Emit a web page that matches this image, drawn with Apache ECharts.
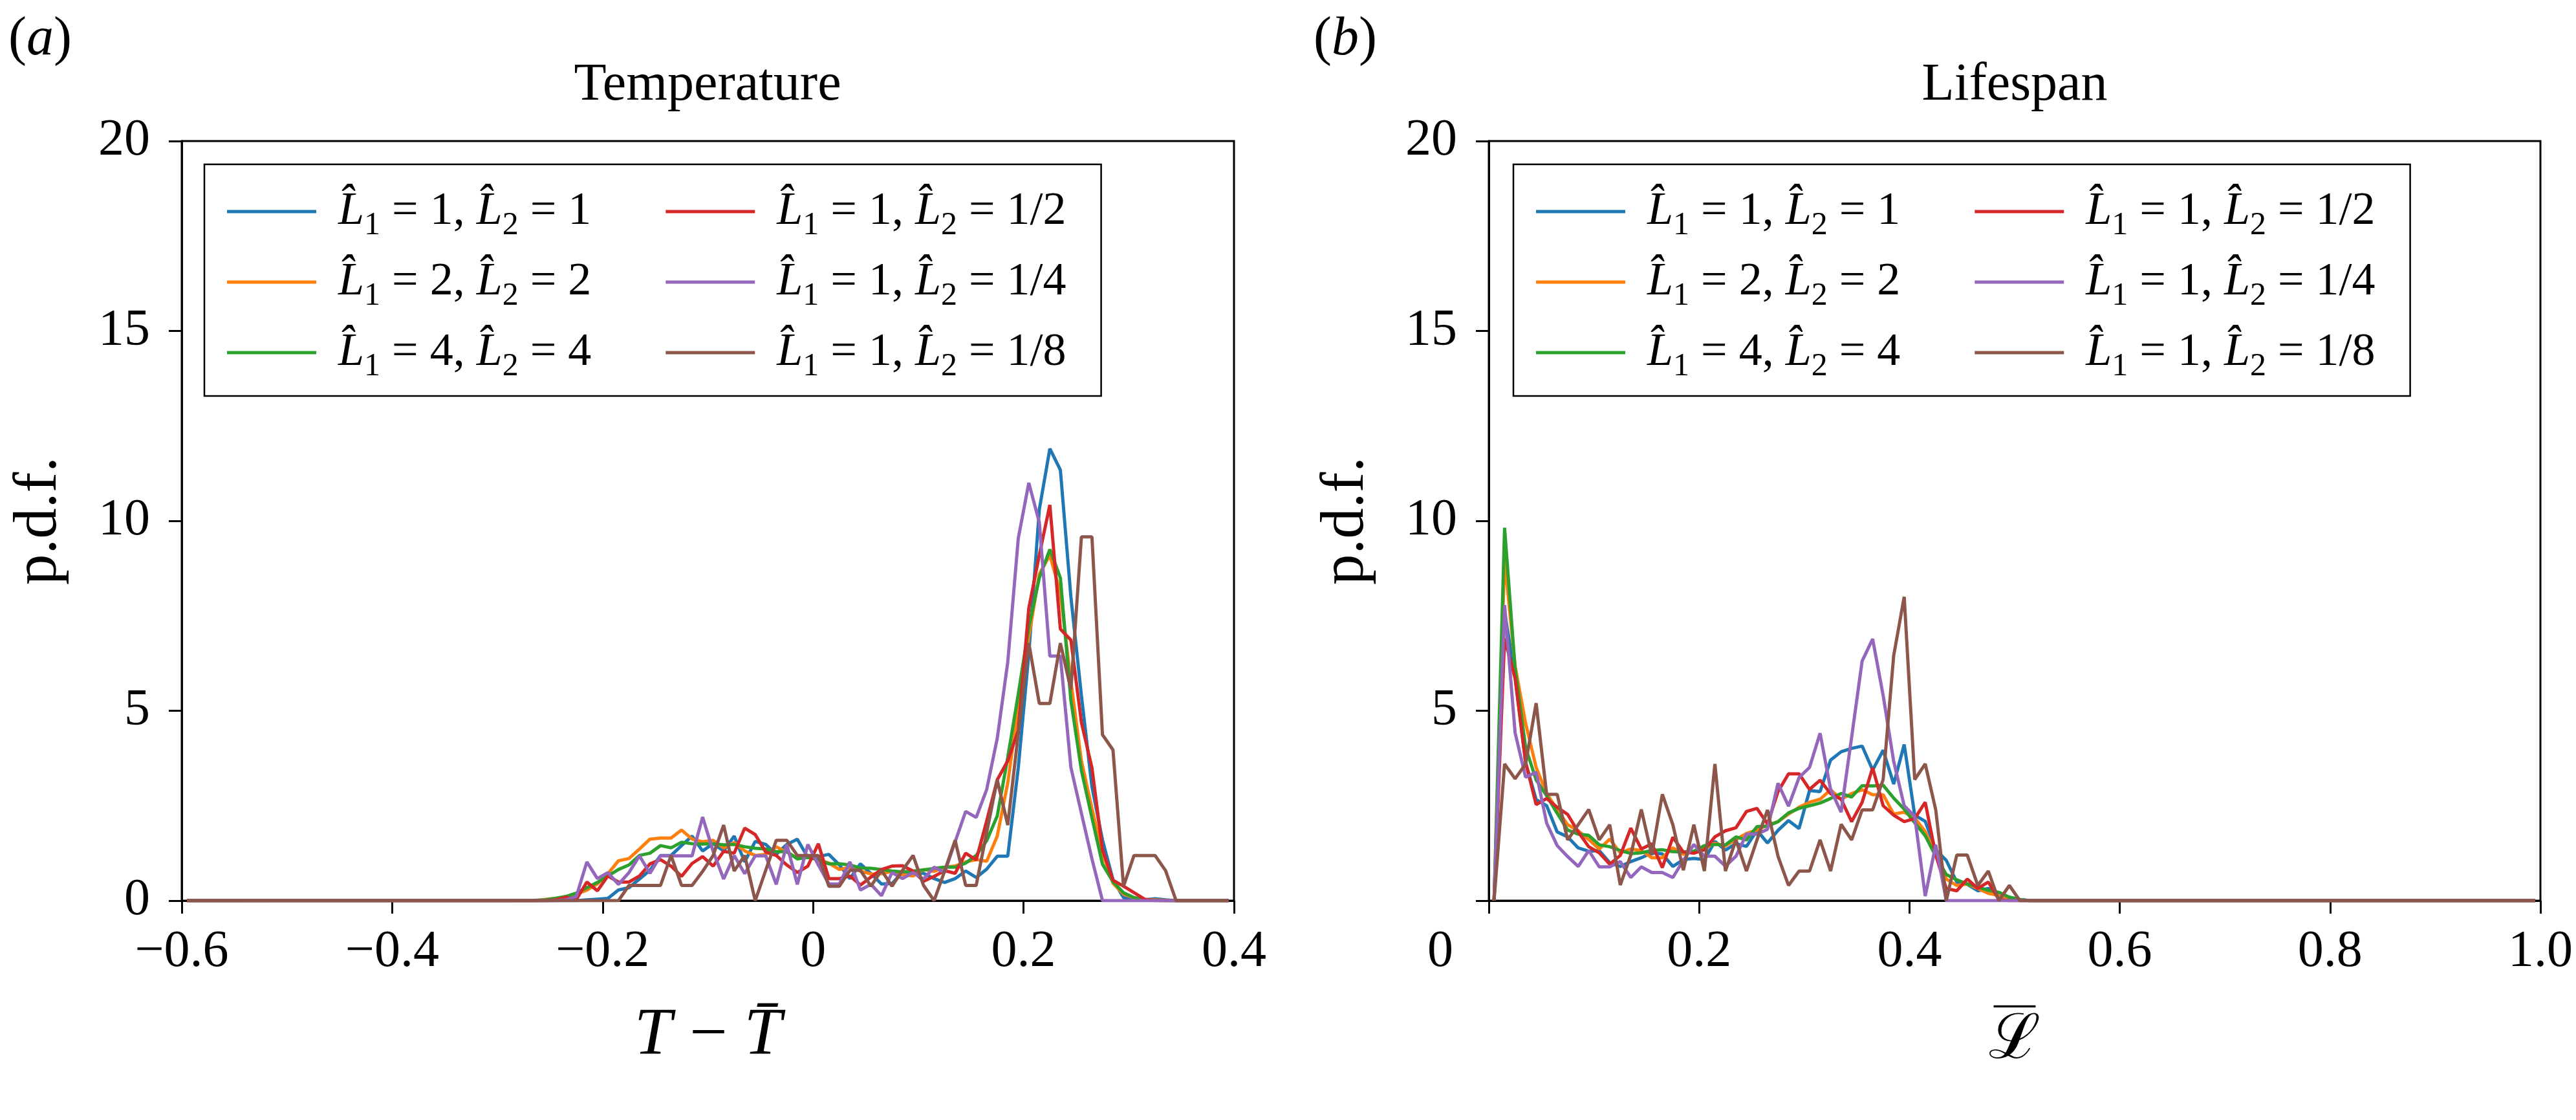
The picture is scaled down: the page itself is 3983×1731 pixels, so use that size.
<!DOCTYPE html>
<html>
<head>
<meta charset="utf-8">
<script src="https://cdn.jsdelivr.net/npm/echarts@6/dist/echarts.min.js"></script>
<style>
  html, body { margin: 0; padding: 0; background: #fff; }
  #content { width: 3983px; height: 1731px; }
</style>
</head>
<body>
<div id="content"></div>
<script>
// bin centres (panel a), with zero end points at both sides of the axis
var tempX = [-0.595, -0.265, -0.255, -0.245, -0.235, -0.225, -0.215, -0.205, -0.195, -0.185, -0.175,
    -0.165, -0.155, -0.145, -0.135, -0.125, -0.115, -0.105, -0.095, -0.085, -0.075, -0.065, -0.055,
    -0.045, -0.035, -0.025, -0.015, -0.005, 0.005, 0.015, 0.025, 0.035, 0.045, 0.055, 0.065, 0.075,
    0.085, 0.095, 0.105, 0.115, 0.125, 0.135, 0.145, 0.155, 0.165, 0.175, 0.185, 0.195, 0.205, 0.215,
    0.225, 0.235, 0.245, 0.255, 0.265, 0.275, 0.285, 0.295, 0.305, 0.315, 0.325, 0.335, 0.345, 0.355, 0.395];

var tempL11 = [0, 0, 0, 0, 0, 0, 0.02, 0.04, 0.06, 0.28, 0.34, 0.57, 0.8, 1.19, 1.19, 1.45, 1.7, 1.31, 1.5, 1.31,
    1.7, 1.02, 1.56, 1.48, 1.22, 1.48, 1.62, 1.14, 1.16, 1.22, 0.94, 0.58, 0.97, 0.71, 0.44, 0.45, 0.75, 0.75,
    0.72, 0.58, 0.48, 0.58, 0.78, 0.61, 0.83, 1.17, 1.17, 3.5, 6.5, 10.3, 11.9, 11.34, 8.0, 5.4, 3.0, 1.6,
    0.55, 0.08, 0.03, 0.02, 0.05, 0.02, 0, 0, 0];
var tempL22 = [0, 0, 0.03, 0.06, 0.09, 0.17, 0.28, 0.44, 0.71, 1.05, 1.11, 1.36, 1.62, 1.65, 1.65, 1.86, 1.62, 1.55,
    1.59, 1.39, 1.53, 1.31, 1.19, 1.22, 1.42, 1.28, 1.12, 1.14, 1.08, 0.99, 0.82, 0.88, 0.78, 0.7, 0.71, 0.77,
    0.68, 0.65, 0.82, 0.77, 0.88, 0.91, 1.02, 1.08, 1.04, 1.7, 3.1, 5.1, 6.95, 8.6, 9.1, 8.1, 5.77, 3.68, 2.43,
    1.25, 0.46, 0.17, 0.08, 0.03, 0.02, 0.01, 0, 0, 0];
var tempL44 = [0, 0.01, 0.02, 0.06, 0.11, 0.2, 0.34, 0.48, 0.65, 0.82, 0.94, 1.19, 1.25, 1.45, 1.39, 1.54, 1.5, 1.49,
    1.5, 1.47, 1.48, 1.42, 1.38, 1.36, 1.29, 1.29, 1.1, 1.14, 1.08, 0.97, 0.97, 0.94, 0.86, 0.85, 0.82, 0.78,
    0.76, 0.78, 0.81, 0.85, 0.88, 0.88, 0.99, 1.19, 1.58, 2.23, 3.77, 5.44, 7.2, 8.5, 9.25, 8.5, 5.27, 3.43,
    2.18, 0.96, 0.5, 0.21, 0.08, 0.03, 0.01, 0, 0, 0, 0];
var tempL12 = [0, 0, 0, 0.02, 0.09, 0.03, 0.49, 0.26, 0.65, 0.49, 0.49, 0.65, 0.97, 1.08, 0.91, 0.64, 0.98, 1.16,
    0.91, 1.3, 1.25, 1.91, 1.74, 1.28, 1.19, 0.94, 0.74, 0.91, 1.5, 0.58, 0.58, 0.65, 0.41, 0.62, 0.82, 0.91,
    0.92, 0.78, 0.51, 0.64, 0.79, 0.72, 1.25, 1.07, 2.1, 3.18, 3.68, 4.48, 7.7, 9.1, 10.42, 7.15, 6.86, 4.69,
    3.5, 1.34, 0.54, 0.38, 0.21, 0.04, 0, 0, 0, 0, 0];
var tempL14 = [0, 0, 0, 0, 0.02, 0.11, 1.02, 0.58, 0.74, 0.43, 0.74, 1.18, 0.72, 1.18, 1.18, 1.18, 1.18, 2.2, 1.3,
    0.57, 1.19, 0.71, 1.18, 1.18, 0.43, 1.48, 0.43, 1.48, 0.94, 0.44, 0.44, 1.02, 0.28, 0.43, 0.13, 0.74, 0.58,
    0.74, 0.57, 0.88, 0.74, 1.55, 2.35, 2.19, 2.93, 4.27, 6.28, 9.54, 11.0, 9.96, 6.44, 6.44, 3.51, 2.3, 1.1,
    0, 0, 0, 0, 0, 0, 0, 0, 0, 0];
var tempL18 = [0, 0, 0, 0, 0, 0, 0, 0, 0, 0, 0.4, 0.4, 0.4, 0.4, 1.19, 0.4, 0.4, 0.77, 1.19, 1.99, 0.78, 1.19, 0,
    0.8, 1.59, 1.59, 1.19, 1.19, 1.19, 0.38, 0.38, 0.8, 0.8, 0.38, 0.8, 0.38, 0.8, 1.19, 0.4, 0, 0.78, 1.59,
    0.4, 0.4, 1.8, 3.18, 1.99, 4.4, 6.78, 5.19, 5.19, 6.78, 5.56, 9.58, 9.58, 4.37, 3.97, 0.38, 1.19, 1.19,
    1.19, 0.79, 0, 0, 0];

// bin centres (panel b), with a zero end point at the right side
var lifeX = [0.005, 0.015, 0.025, 0.035, 0.045, 0.055, 0.065, 0.075, 0.085, 0.095, 0.105, 0.115, 0.125,
    0.135, 0.145, 0.155, 0.165, 0.175, 0.185, 0.195, 0.205, 0.215, 0.225, 0.235, 0.245, 0.255, 0.265, 0.275,
    0.285, 0.295, 0.305, 0.315, 0.325, 0.335, 0.345, 0.355, 0.365, 0.375, 0.385, 0.395, 0.405, 0.415, 0.425,
    0.435, 0.445, 0.455, 0.465, 0.475, 0.485, 0.495, 0.505, 0.515, 0.995];

var lifeL11 = [0, 7.6, 5.9, 3.64, 2.66, 2.5, 1.81, 1.68, 1.39, 1.3, 1.32, 1.0, 0.9, 1.03, 1.13, 1.26, 1.23, 0.9,
    1.08, 1.11, 1.08, 1.56, 1.33, 1.5, 1.43, 1.85, 1.52, 1.85, 2.11, 1.9, 2.9, 2.87, 3.7, 3.92, 4.01, 4.07,
    3.44, 3.96, 3.07, 4.11, 2.25, 2.09, 1.34, 1.06, 0.49, 0.43, 0.26, 0.32, 0.18, 0.09, 0.03, 0, 0];
var lifeL22 = [0, 9.0, 6.18, 4.67, 3.51, 2.82, 2.4, 2.0, 1.84, 1.61, 1.36, 1.62, 1.26, 1.36, 1.32, 1.13, 1.13,
    1.39, 1.22, 1.3, 1.37, 1.51, 1.44, 1.61, 1.77, 1.86, 1.99, 2.08, 2.28, 2.46, 2.59, 2.67, 2.92, 2.67, 2.82,
    2.92, 2.79, 2.79, 2.28, 2.33, 2.18, 1.82, 1.2, 0.57, 0.4, 0.44, 0.32, 0.19, 0.14, 0.06, 0.02, 0, 0];
var lifeL44 = [0, 9.82, 6.11, 4.03, 3.18, 2.76, 2.3, 1.86, 1.75, 1.72, 1.47, 1.42, 1.32, 1.24, 1.26, 1.32, 1.34,
    1.29, 1.28, 1.3, 1.45, 1.48, 1.47, 1.68, 1.6, 1.95, 1.96, 2.08, 2.31, 2.43, 2.5, 2.57, 2.69, 2.82, 2.73,
    3.03, 3.02, 3.04, 2.7, 2.41, 2.05, 1.71, 1.17, 0.69, 0.55, 0.44, 0.36, 0.27, 0.22, 0.09, 0.03, 0, 0];
var lifeL12 = [0, 6.9, 5.85, 3.64, 2.53, 2.69, 2.46, 2.27, 1.81, 1.42, 1.26, 0.96, 1.19, 1.91, 1.36, 1.5, 0.87,
    1.67, 1.28, 1.25, 1.34, 1.68, 1.84, 1.92, 2.35, 2.43, 2.02, 2.87, 3.34, 3.34, 2.93, 3.17, 2.82, 2.67, 2.08,
    2.59, 3.5, 2.5, 2.25, 2.08, 2.16, 2.59, 1.2, 0.32, 0.26, 0.57, 0.32, 0.49, 0.03, 0, 0, 0, 0];
var lifeL14 = [0, 7.78, 4.42, 3.25, 3.38, 2.04, 1.45, 1.16, 0.9, 1.32, 0.89, 0.89, 1.03, 0.61, 0.89, 0.74, 0.74,
    0.61, 1.06, 1.48, 1.17, 1.17, 0.91, 1.17, 1.75, 1.75, 1.88, 3.09, 2.49, 3.24, 3.51, 4.41, 2.93, 2.33, 4.3,
    6.31, 6.89, 5.4, 3.67, 2.5, 2.22, 0.12, 1.47, 0, 0, 0, 0, 0, 0, 0, 0, 0, 0];
var lifeL18 = [0, 3.6, 3.21, 3.6, 5.2, 2.8, 2.8, 1.6, 2.0, 2.4, 1.6, 2.0, 0.41, 1.2, 2.4, 1.2, 2.8, 2.0, 0.8, 2.0,
    0.78, 3.6, 0.78, 1.6, 0.78, 1.6, 2.39, 1.17, 0.4, 0.78, 0.78, 1.6, 0.78, 2.01, 1.6, 2.39, 2.39, 3.19, 6.45,
    8.0, 3.19, 3.6, 2.39, 0, 1.2, 1.2, 0.4, 0.78, 0, 0.4, 0, 0, 0];

var l1Vals = ['1', '2', '4', '1', '1', '1'];
var l2Vals = ['1', '2', '4', '1/2', '1/4', '1/8'];
var names = ['L1=1,L2=1', 'L1=2,L2=2', 'L1=4,L2=4', 'L1=1,L2=1/2', 'L1=1,L2=1/4', 'L1=1,L2=1/8'];
var colors = ['#1f77b4', '#ff7f0e', '#2ca02c', '#d62728', '#9467bd', '#8c564b'];

var tempData = [tempL11, tempL22, tempL44, tempL12, tempL14, tempL18];
var lifeData = [lifeL11, lifeL22, lifeL44, lifeL12, lifeL14, lifeL18];

var FONT = 'Liberation Serif';

function pairs(xs, ys) {
    return xs.map(function (x, i) { return [x, ys[i]]; });
}

// first legend column gets a spacer so the second column starts further right
function legendText(name) {
    var i = names.indexOf(name);
    var s = '{i|L\u0302}{s|1}{t| = ' + l1Vals[i] + ', }{i|L\u0302}{s|2}{t| = ' + l2Vals[i] + '}';
    if (i < 3) s += '{pad| }';
    return s;
}

var legendRich = {
    t: {fontFamily: FONT, fontSize: 72, lineHeight: 72, color: '#000'},
    i: {fontFamily: FONT, fontSize: 72, lineHeight: 72, fontStyle: 'italic', color: '#000'},
    s: {fontFamily: FONT, fontSize: 50, lineHeight: 50, color: '#000', padding: [44, 0, 0, 0]},
    // transparent background so the spacer keeps its width in the layout
    pad: {fontSize: 20, width: 100, backgroundColor: 'rgba(255,255,255,0)'}
};

function makeLegend(left) {
    return {
        orient: 'vertical',
        left: left,
        top: 254,
        height: 320,
        padding: [26, 54, 20, 35],
        itemGap: 15,
        itemWidth: 138,
        itemHeight: 5,
        icon: 'rect',
        selectedMode: false,
        backgroundColor: '#fff',
        borderColor: '#000',
        borderWidth: 2.5,
        borderRadius: 0,
        data: names,
        formatter: legendText,
        textStyle: {padding: [0, 0, 0, 29], rich: legendRich}
    };
}

function tickFmt(v) {
    if (Math.abs(v) < 1e-9) return '0';
    return (v < 0 ? '\u2212' : '') + Math.abs(v).toFixed(1);
}

var axisLine = {show: true, onZero: false, lineStyle: {color: '#000', width: 3}};
var axisTick = {show: true, length: 20, lineStyle: {color: '#000', width: 3}};
var labelStyle = {fontFamily: FONT, fontSize: 80, color: '#000'};

function xAxis(grid, min, max, name, nameGap, nameStyle, fmt) {
    return {
        type: 'value', gridIndex: grid, min: min, max: max, interval: 0.2,
        axisLine: axisLine, axisTick: axisTick, splitLine: {show: false},
        axisLabel: Object.assign({margin: 40, formatter: fmt,
            rich: {z: {fontFamily: FONT, fontSize: 80, color: '#000', padding: [0, 150, 0, 0]}}}, labelStyle),
        name: name, nameLocation: 'middle', nameGap: nameGap,
        nameTextStyle: nameStyle
    };
}

function yAxis(grid, showZero) {
    return {
        type: 'value', gridIndex: grid, min: 0, max: 20, interval: 5,
        axisLine: axisLine, axisTick: axisTick, splitLine: {show: false},
        axisLabel: Object.assign({margin: 49, formatter: function (v) {
            return (v === 0 && !showZero) ? '' : String(v);
        }}, labelStyle),
        name: 'p.d.f.', nameLocation: 'middle', nameGap: 172,
        nameTextStyle: {fontFamily: FONT, fontSize: 95, color: '#000'}
    };
}

var series = [];
[tempData, lifeData].forEach(function (set, g) {
    set.forEach(function (vals, k) {
        series.push({
            type: 'line',
            name: names[k],
            xAxisIndex: g,
            yAxisIndex: g,
            data: pairs(g === 0 ? tempX : lifeX, vals),
            symbol: 'none',
            color: colors[k],
            lineStyle: {color: colors[k], width: 5},
            animation: false
        });
    });
});

function label(x, letter) {
    return {
        type: 'text', x: x, y: 62,
        style: {
            text: '{n|(}{i|' + letter + '}{n|)}',
            rich: {
                n: {fontFamily: FONT, fontSize: 84, color: '#000'},
                i: {fontFamily: FONT, fontSize: 84, fontStyle: 'italic', color: '#000'}
            },
            align: 'left', verticalAlign: 'middle',
            textAlign: 'left', textVerticalAlign: 'middle'
        }
    };
}

function heading(x, text) {
    return {
        type: 'text', x: x, y: 132,
        style: {
            text: text, fill: '#000', font: '82px "' + FONT + '"',
            align: 'center', verticalAlign: 'middle',
            textAlign: 'center', textVerticalAlign: 'middle'
        }
    };
}

var myChart = echarts.init(document.getElementById('content'));

var option = {
    backgroundColor: '#fff',
    animation: false,
    grid: [
        {left: 281, top: 218, width: 1627, height: 1174, show: true, borderColor: '#000', borderWidth: 3},
        {left: 2302, top: 218, width: 1626, height: 1174, show: true, borderColor: '#000', borderWidth: 3}
    ],
    xAxis: [
        xAxis(0, -0.6, 0.4, 'T\u2009\u2212\u2009T\u0304', 158,
            {fontFamily: FONT, fontSize: 104, fontStyle: 'italic', color: '#000'}, tickFmt),
        xAxis(1, 0, 1, '{bar|\u2014}\n{l|\u2112}', 150,
            {color: '#000', rich: {
                bar: {fontFamily: FONT, fontSize: 64, lineHeight: 22, color: '#000'},
                l: {fontFamily: 'DejaVu Serif', fontSize: 96, lineHeight: 92, color: '#000'}
            }},
            function (v) { return v === 0 ? '{z|0}' : v.toFixed(1); })
    ],
    yAxis: [yAxis(0, true), yAxis(1, false)],
    legend: [makeLegend(316), makeLegend(2340)],
    graphic: [
        label(13, 'a'),
        label(2031, 'b'),
        heading(1094, 'Temperature'),
        heading(3115, 'Lifespan')
    ],
    series: series
};

myChart.setOption(option);
</script>
</body>
</html>
